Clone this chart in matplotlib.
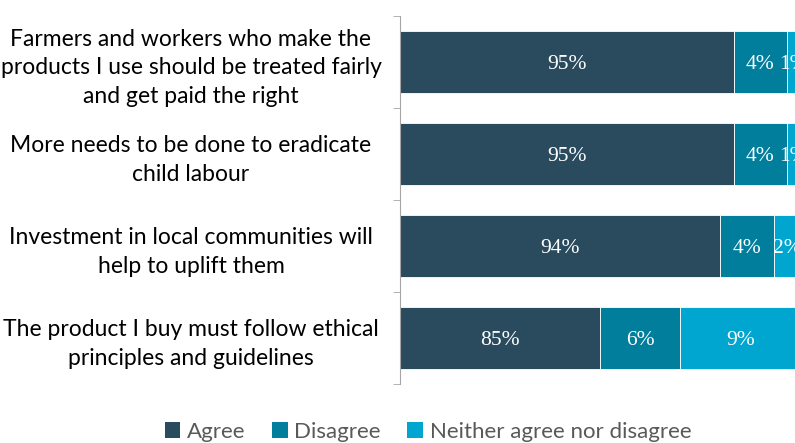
import matplotlib.pyplot as plt
from matplotlib.patches import Patch
import numpy as np

statements = [
    'Farmers and workers who make the\nproducts I use should be treated fairly\nand get paid the right',
    'More needs to be done to eradicate\nchild labour',
    'Investment in local communities will\nhelp to uplift them',
    'The product I buy must follow ethical\nprinciples and guidelines',
]
agree = [95, 95, 94, 85]
disagree = [4, 4, 4, 6]
neither = [1, 1, 2, 9]

series_names = ['Agree', 'Disagree', 'Neither agree nor disagree']
colors = ['#2A4B5E', '#007E9C', '#00A6CF']

# the original chart's axis starts at 70%, so the dark bars are cut there
x_min, x_max = 70, 100

fig = plt.figure(figsize=(7.95, 4.43), dpi=100)
ax = fig.add_axes([400 / 795, 59 / 443, 400.5 / 795, 368 / 443])

y = np.arange(len(statements))
left = np.zeros(len(statements))
for values, color in zip([agree, disagree, neither], colors):
    values = np.array(values, dtype=float)
    ax.barh(y, values, left=left, height=0.665, color=color,
            edgecolor='white', linewidth=0.6)
    for yi, l, v in zip(y, left, values):
        start = max(l, x_min)
        ax.text((start + l + v) / 2, yi, f'{int(v)}%', ha='center', va='center_baseline',
                color='white', fontsize=15.5, family='Liberation Serif')
    left += values

ax.set_xlim(x_min, x_max)
ax.set_ylim(len(statements) - 0.5, -0.5)

ax.set_yticks(y)
ax.set_yticklabels(statements, fontsize=16.5, family='Lato',
                   ha='center', multialignment='center', linespacing=1.45)
# pad in points: label centres sit ~209 px left of the axis line
ax.tick_params(axis='y', which='major', length=0, pad=209 * 0.72)
ax.set_yticks(np.arange(len(statements) + 1) - 0.5, minor=True)
ax.tick_params(axis='y', which='minor', length=5, color='#A6A6A6')

ax.set_xticks([])
for side in ['top', 'right', 'bottom']:
    ax.spines[side].set_visible(False)
ax.spines['left'].set_color('#A6A6A6')

handles = [Patch(facecolor=c, edgecolor='none') for c in colors]
leg = fig.legend(handles, series_names, loc='center', bbox_to_anchor=(428 / 795, 1 - 432 / 443),
                 ncol=3, frameon=False, handlelength=0.7, handleheight=0.7,
                 handletextpad=0.3, columnspacing=1.2, prop={'family': 'Lato', 'size': 16})
for t in leg.get_texts():
    t.set_color('#595959')

fig.savefig('out.png', dpi=100)
